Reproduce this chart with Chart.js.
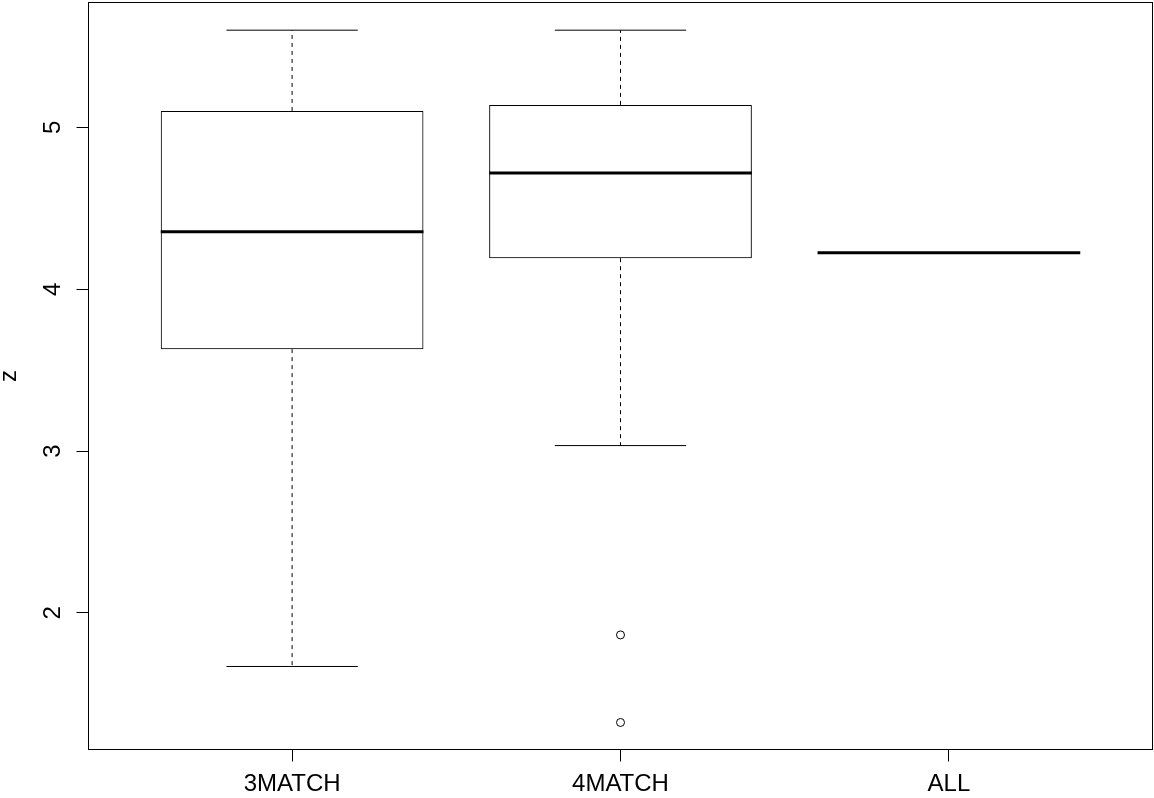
<!DOCTYPE html>
<html>
<head>
<meta charset="utf-8">
<script src="https://cdn.jsdelivr.net/npm/chart.js@4/dist/chart.umd.min.js"></script>
<style>
  html, body { margin: 0; padding: 0; background: #fff; }
  canvas { display: block; }
</style>
</head>
<body>
<canvas id="chart" width="1154" height="798"></canvas>
<script>
// values
const categories = ["3MATCH", "4MATCH", "ALL"];
const lowerWhisker = [1.669, 3.034, 4.226];
const lowerQuartile = [3.630, 4.192, 4.226];
const medians = [4.356, 4.719, 4.226];
const upperQuartile = [5.102, 5.139, 4.226];
const upperWhisker = [5.601, 5.601, 4.226];
const outliers = [[], [1.864, 1.323], []];
const yTicks = [2, 3, 4, 5];

const fontFamily = "'Liberation Sans', Arial, Helvetica, sans-serif";
const boxWidth = 0.8;

const boxData = categories.map((c, i) => ({ x: i + 1, y: [lowerQuartile[i], upperQuartile[i]] }));

// segments separated by null points so each box gets its own pieces
const medianData = [];
const whiskerData = [];
const capData = [];
categories.forEach((c, i) => {
  const x = i + 1;
  medianData.push({ x: x - boxWidth / 2, y: medians[i] }, { x: x + boxWidth / 2, y: medians[i] }, { x: x, y: null });
  whiskerData.push(
    { x: x, y: upperQuartile[i] }, { x: x, y: upperWhisker[i] }, { x: x, y: null },
    { x: x, y: lowerQuartile[i] }, { x: x, y: lowerWhisker[i] }, { x: x, y: null }
  );
  capData.push(
    { x: x - boxWidth / 4, y: upperWhisker[i] }, { x: x + boxWidth / 4, y: upperWhisker[i] }, { x: x, y: null },
    { x: x - boxWidth / 4, y: lowerWhisker[i] }, { x: x + boxWidth / 4, y: lowerWhisker[i] }, { x: x, y: null }
  );
});
const outlierData = outliers.flatMap((vals, i) => vals.map(v => ({ x: i + 1, y: v })));

const lineStyle = {
  type: "line",
  borderColor: "#000",
  pointRadius: 0,
  fill: false,
  tension: 0,
  spanGaps: false
};

// frame around the plotting region, like R's box()
const framePlugin = {
  id: "frame",
  afterDraw(chart) {
    const { ctx, chartArea } = chart;
    ctx.save();
    ctx.strokeStyle = "#000";
    ctx.lineWidth = 1;
    ctx.strokeRect(chartArea.left, chartArea.top, chartArea.right - chartArea.left, chartArea.bottom - chartArea.top);
    ctx.restore();
  }
};

new Chart(document.getElementById("chart"), {
  type: "bar",
  data: {
    datasets: [
      {
        label: "box",
        data: boxData,
        backgroundColor: "rgba(0,0,0,0)",
        borderColor: "#000",
        borderWidth: 1,
        borderSkipped: false,
        categoryPercentage: 1,
        barPercentage: boxWidth,
        order: 4
      },
      { ...lineStyle, label: "whiskers", data: whiskerData, borderWidth: 1, borderDash: [4, 4], order: 3 },
      { ...lineStyle, label: "caps", data: capData, borderWidth: 1, order: 2 },
      { ...lineStyle, label: "median", data: medianData, borderWidth: 3, borderCapStyle: "butt", order: 1 },
      {
        type: "scatter",
        label: "outliers",
        data: outlierData,
        pointRadius: 4,
        pointBorderColor: "#000",
        pointBackgroundColor: "rgba(0,0,0,0)",
        pointBorderWidth: 1,
        order: 0
      }
    ]
  },
  options: {
    responsive: false,
    animation: false,
    layout: { autoPadding: false, padding: { top: 2.5, right: 1.5, left: 0, bottom: 0 } },
    plugins: { legend: { display: false }, tooltip: { enabled: false } },
    scales: {
      x: {
        type: "linear",
        min: 0.38,
        max: 3.62,
        offset: false,
        afterBuildTicks: s => { s.ticks = categories.map((c, i) => ({ value: i + 1 })); },
        afterFit: s => {
          s.height = 48.5;
          s.paddingLeft = 0;
          s.paddingRight = 0;
        },
        ticks: {
          callback: v => categories[v - 1],
          autoSkip: false,
          maxRotation: 0,
          color: "#000",
          padding: 8,
          font: { family: fontFamily, size: 24 }
        },
        grid: { offset: false, drawOnChartArea: false, drawTicks: true, tickLength: 12, color: "#000" },
        border: { display: false }
      },
      y: {
        type: "linear",
        min: 1.156,
        max: 5.772,
        afterBuildTicks: s => { s.ticks = yTicks.map(v => ({ value: v })); },
        afterFit: s => {
          s.width = 88.5;
          s.paddingTop = 0;
          s.paddingBottom = 0;
        },
        ticks: {
          minRotation: 90,
          maxRotation: 90,
          crossAlign: "center",
          padding: 16.3,
          color: "#000",
          font: { family: fontFamily, size: 24 }
        },
        grid: { drawOnChartArea: false, drawTicks: true, tickLength: 12, color: "#000" },
        border: { display: false },
        title: {
          display: true,
          text: "z",
          color: "#000",
          padding: { top: -3, bottom: 0 },
          font: { family: fontFamily, size: 24, lineHeight: 1 }
        }
      }
    }
  },
  plugins: [framePlugin]
});
</script>
</body>
</html>
